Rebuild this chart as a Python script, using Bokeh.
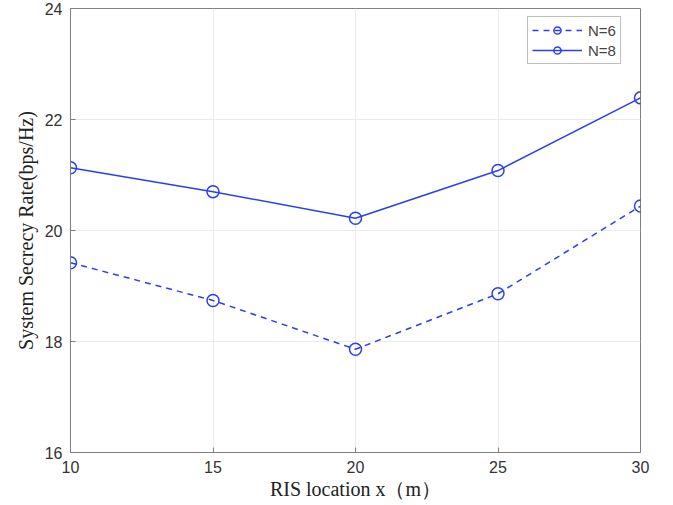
from bokeh.plotting import figure
from bokeh.models import Range1d, FixedTicker, Legend, LegendItem
from bokeh.embed import file_html
from bokeh.resources import INLINE

x_loc = [10, 15, 20, 25, 30]
rate_n6 = [19.42, 18.74, 17.86, 18.86, 20.44]
rate_n8 = [21.13, 20.70, 20.22, 21.08, 22.39]
x_ticks = [10, 15, 20, 25, 30]
y_ticks = [16, 18, 20, 22, 24]

blue = "#2a3ff0"

p = figure(frame_width=570, frame_height=444, output_backend="svg", toolbar_location=None,
           x_range=Range1d(10, 30), y_range=Range1d(16, 24),
           min_border_left=70, min_border_right=25, min_border_top=8, min_border_bottom=50)
p.background_fill_color = "white"
p.border_fill_color = "white"
p.outline_line_color = "#808080"
p.outline_line_width = 1

for ax in (p.xaxis[0], p.yaxis[0]):
    ax.axis_line_color = "#808080"
    ax.major_tick_line_color = "#808080"
    ax.major_tick_in = 5
    ax.major_tick_out = 0
    ax.minor_tick_line_color = None
    ax.major_label_text_font = "Liberation Sans"
    ax.major_label_text_font_size = "16px"
    ax.major_label_text_color = "#333333"
    ax.axis_label_text_font = "Liberation Serif"
    ax.axis_label_text_font_size = "20px"
    ax.axis_label_text_font_style = "normal"
    ax.axis_label_text_color = "#222222"

p.xaxis.ticker = FixedTicker(ticks=x_ticks)
p.yaxis.ticker = FixedTicker(ticks=y_ticks)
p.xaxis.axis_label = "RIS location x（m）"
p.yaxis.axis_label = "System Secrecy Rate(bps/Hz)"
p.xaxis.major_label_standoff = 8
p.yaxis.major_label_standoff = 8
p.xaxis.axis_label_standoff = 2
p.yaxis.axis_label_standoff = 5

p.xgrid.grid_line_color = "#ebebeb"
p.ygrid.grid_line_color = "#ebebeb"

l6 = p.line(x_loc, rate_n6, line_color=blue, line_width=1.5, line_dash="6 5")
c6 = p.scatter(x_loc, rate_n6, marker="circle", size=12, line_color=blue, line_width=1.5, fill_color=None)
l8 = p.line(x_loc, rate_n8, line_color=blue, line_width=1.5)
c8 = p.scatter(x_loc, rate_n8, marker="circle", size=12, line_color=blue, line_width=1.5, fill_color=None)

legend = Legend(items=[LegendItem(label="N=6", renderers=[l6, c6]),
                       LegendItem(label="N=8", renderers=[l8, c8])],
                location=(457, 388))
legend.margin = 0
legend.padding = 4
legend.spacing = 2
legend.glyph_width = 50
legend.glyph_height = 18
legend.label_text_font = "Liberation Sans"
legend.label_text_font_size = "15px"
legend.label_standoff = 6
legend.border_line_color = "#808080"
legend.border_line_width = 1
legend.background_fill_color = "white"
p.add_layout(legend)

open("out.html", "w").write(file_html(p, INLINE))
